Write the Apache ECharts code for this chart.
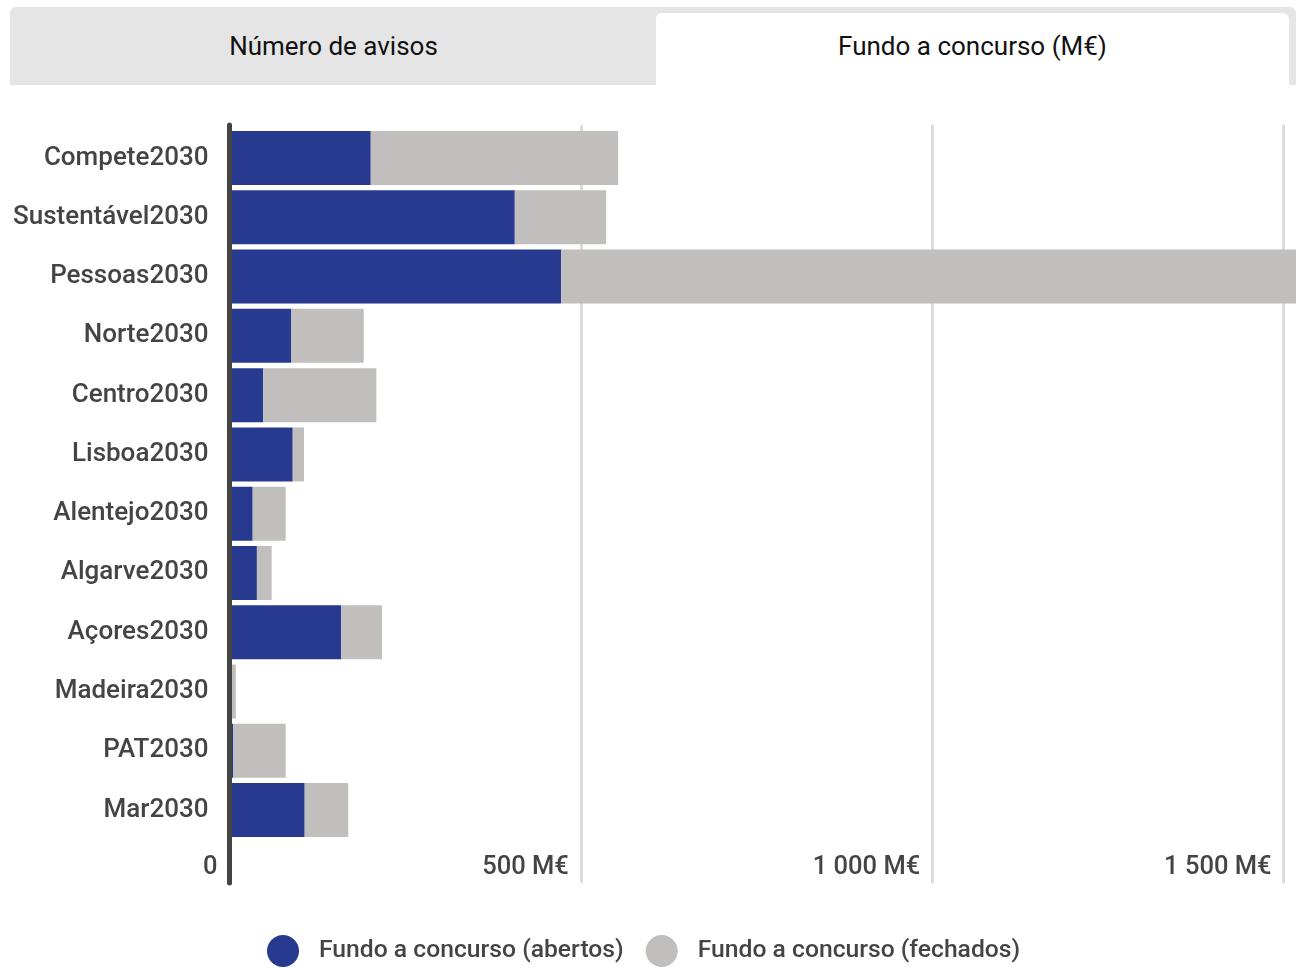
<!DOCTYPE html>
<html>
<head>
<meta charset="utf-8">
<script src="https://cdn.jsdelivr.net/npm/echarts@6/dist/echarts.min.js"></script>
<style>
  html, body { margin: 0; padding: 0; background: #fff; overflow: hidden; font-family: Roboto, "Noto Sans", sans-serif; }
  #wrap { position: absolute; left: 0; top: 0; width: 1296px; height: 968px; overflow: hidden; }
  #chart { position: absolute; left: 0; top: 0; width: 1700px; height: 968px; }
  #tabs { position: absolute; left: 10px; top: 7px; width: 1286px; height: 78px; background: #e5e5e5; border-radius: 6px 6px 0 0; z-index: 5; }
  .tab { position: absolute; top: 0; height: 78px; display: flex; align-items: center; justify-content: center; font-size: 26px; color: #111; font-family: Roboto, sans-serif; }
  #tab1 { left: 0; width: 647px; top: 0; }
  #tab2 { left: 646px; width: 633px; top: 6px; height: 72px; background: #fff; border-radius: 6px 6px 0 0; }
  #tab2 span { position: relative; top: -3px; }
</style>
</head>
<body>
<div id="wrap">
  <div id="chart"></div>
</div>
<div id="tabs">
  <div class="tab" id="tab1">Número de avisos</div>
  <div class="tab" id="tab2"><span>Fundo a concurso (M€)</span></div>
</div>
<script>
const categories = ['Compete2030', 'Sustentável2030', 'Pessoas2030', 'Norte2030', 'Centro2030', 'Lisboa2030', 'Alentejo2030', 'Algarve2030', 'Açores2030', 'Madeira2030', 'PAT2030', 'Mar2030'];
const abertos = [201, 406, 472, 88, 48, 90, 33, 39, 159, 0, 5, 107];
const fechados = [352, 130, 1250, 103, 161, 16, 47, 21, 58, 9, 75, 62];
const tickLabels = ['0', '500 M€', '1 000 M€', '1 500 M€'];
const seriesNames = ['Fundo a concurso (abertos)', 'Fundo a concurso (fechados)'];

const chart = echarts.init(document.getElementById('chart'), null, { renderer: 'canvas' });
const FONT = 'Roboto';
const gridLeft = 229.5;
const gridRight = 1700 - (229.5 + 1405.4);

chart.setOption({
  animation: false,
  textStyle: { fontFamily: FONT },
  legend: {
    left: 262,
    top: 930,
    icon: 'circle',
    itemWidth: 32,
    itemHeight: 32,
    itemGap: 22,
    textStyle: { fontSize: 24.7, fontWeight: 500, color: '#444', fontFamily: FONT, padding: [0, 0, 0, 15] },
    data: seriesNames
  },
  grid: [
    { left: gridLeft, right: gridRight, top: 128.4, height: 711.3 },
    { left: gridLeft, right: gridRight, top: 125, height: 758 }
  ],
  xAxis: [
    { gridIndex: 0, type: 'value', min: 0, max: 2000, show: false },
    {
      gridIndex: 1, type: 'value', min: 0, max: 2000, interval: 500,
      axisLine: { show: false }, axisTick: { show: false },
      splitLine: { show: true, lineStyle: { color: '#dcdcdc', width: 3 } },
      axisLabel: {
        inside: true, margin: 2, fontSize: 25.5, fontWeight: 500, color: '#444', fontFamily: FONT,
        align: 'right', padding: [0, 12, 0, 0],
        showMaxLabel: false,
        formatter: function (v) { const i = Math.round(v / 500); return tickLabels[i] || ''; }
      }
    }
  ],
  yAxis: [
    {
      gridIndex: 0, type: 'category', inverse: true, data: categories,
      axisLine: { show: false }, axisTick: { show: false }, splitLine: { show: false },
      axisLabel: { fontSize: 26, fontWeight: 500, color: '#444', fontFamily: FONT, margin: 21, padding: [9, 0, 0, 0] }
    },
    {
      gridIndex: 1, type: 'value', min: 0, max: 1, z: 5,
      axisLine: { show: true, lineStyle: { color: '#444', width: 5 } },
      axisTick: { show: false }, axisLabel: { show: false }, splitLine: { show: false }
    }
  ],
  series: [
    {
      name: seriesNames[0], type: 'bar', stack: 'total', xAxisIndex: 0, yAxisIndex: 0,
      barWidth: 54, itemStyle: { color: '#283a8f' }, data: abertos
    },
    {
      name: seriesNames[1], type: 'bar', stack: 'total', xAxisIndex: 0, yAxisIndex: 0,
      barWidth: 54, itemStyle: { color: '#c0bfbe' }, data: fechados
    }
  ]
});
</script>
</body>
</html>
